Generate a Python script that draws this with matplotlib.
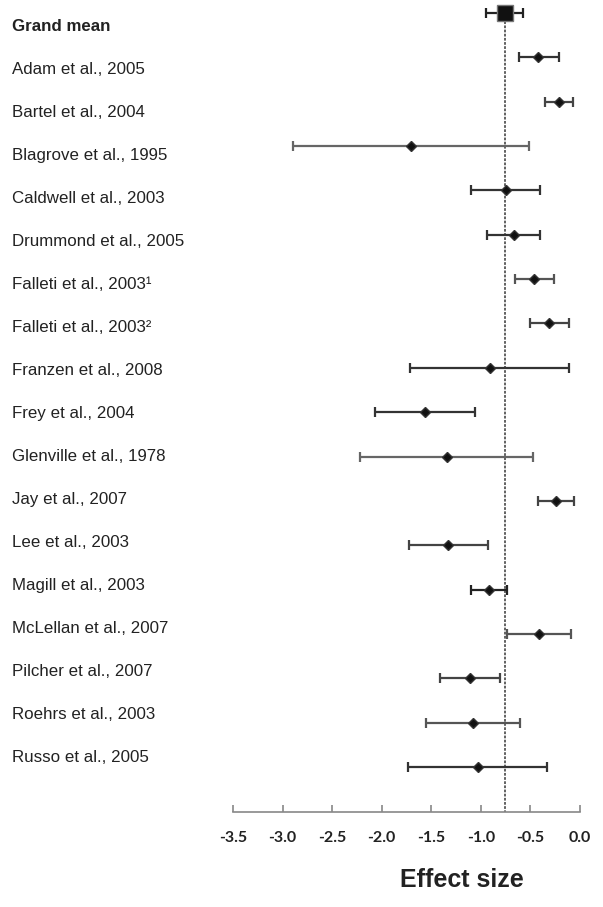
import matplotlib.pyplot as plt
import numpy as np

studies = ["Grand mean", "Adam et al., 2005", "Bartel et al., 2004", "Blagrove et al., 1995",
           "Caldwell et al., 2003", "Drummond et al., 2005", "Falleti et al., 2003\u00b9",
           "Falleti et al., 2003\u00b2", "Franzen et al., 2008", "Frey et al., 2004",
           "Glenville et al., 1978", "Jay et al., 2007", "Lee et al., 2003",
           "Magill et al., 2003", "McLellan et al., 2007", "Pilcher et al., 2007",
           "Roehrs et al., 2003", "Russo et al., 2005"]
effect = [-0.76, -0.42, -0.21, -1.70, -0.75, -0.67, -0.46, -0.31, -0.91, -1.56,
          -1.34, -0.24, -1.33, -0.92, -0.41, -1.11, -1.08, -1.03]
ci_low = [-0.95, -0.62, -0.35, -2.89, -1.10, -0.94, -0.66, -0.50, -1.71, -2.07,
          -2.22, -0.42, -1.72, -1.10, -0.74, -1.41, -1.55, -1.73]
ci_high = [-0.57, -0.21, -0.07, -0.51, -0.40, -0.40, -0.26, -0.11, -0.11, -1.06,
           -0.47, -0.06, -0.93, -0.74, -0.09, -0.81, -0.61, -0.33]
bar_colors = ["#222222", "#333333", "#444444", "#666666", "#333333", "#333333", "#555555",
              "#444444", "#333333", "#333333", "#666666", "#444444", "#444444", "#222222",
              "#555555", "#444444", "#555555", "#333333"]
xticks = [-3.5, -3.0, -2.5, -2.0, -1.5, -1.0, -0.5, 0.0]

W, H = 603, 907
fig = plt.figure(figsize=(W / 100, H / 100), dpi=100)

# main forest axes: x -3.5 at px 233, 0.0 at px 580; axis line at px 812
ax = fig.add_axes([233 / W, (H - 812) / H, 347 / W, 812 / H])
n = len(studies)
rows = np.arange(n)
row_px = 44.35
ax.set_xlim(-3.5, 0)
ax.set_ylim(17 + (812 - 767) / row_px, -13 / row_px)

ax.plot([effect[0], effect[0]], [0, ax.get_ylim()[0]], color="#555555", lw=1.3,
        ls=(0, (1.5, 0.8)), zorder=1)

for i in rows:
    e = effect[i]
    ax.errorbar(e, i, xerr=[[e - ci_low[i]], [ci_high[i] - e]], fmt="none",
                ecolor=bar_colors[i], elinewidth=1.6, capsize=3.5, capthick=1.6, zorder=2)
    if i == 0:
        ax.plot(e, i, marker="s", ms=12, color="#111111", mec="#777777", mew=1, zorder=3)
    else:
        ax.plot(e, i, marker="D", ms=5.5, color="#111111", mec="#333333", zorder=3)

for s in ["top", "right", "left"]:
    ax.spines[s].set_visible(False)
ax.spines["bottom"].set_color("#888888")
ax.spines["bottom"].set_linewidth(1.2)
ax.set_yticks([])
ax.set_xticks(xticks)
ax.set_xticklabels([f"{t:.1f}" for t in xticks])
ax.tick_params(axis="x", direction="in", length=5, width=1.2, color="#888888", pad=14)
for lab in ax.get_xticklabels():
    lab.set_family(["Lato", "DejaVu Sans"])
    lab.set_fontweight("bold")
    lab.set_fontsize(11.5)
    lab.set_color("#222222")

fig.text(462 / W, 1 - 880 / H, "Effect size", fontsize=18, fontweight="bold",
         family="Liberation Sans", color="#222222", ha="center", va="center")

# study labels sit on a slightly different spacing than the markers
lax = fig.add_axes([0, 0, 1, 1])
lax.set_axis_off()
lax.set_xlim(0, W)
lax.set_ylim(17 + (H - 757) / 43.0, -26 / 43.0)
for i in rows:
    lax.text(12, i, studies[i], ha="left", va="center", fontsize=12.2,
             family="Liberation Sans", color="#222222",
             fontweight="bold" if i == 0 else "normal")

fig.savefig("out.png", dpi=100)
